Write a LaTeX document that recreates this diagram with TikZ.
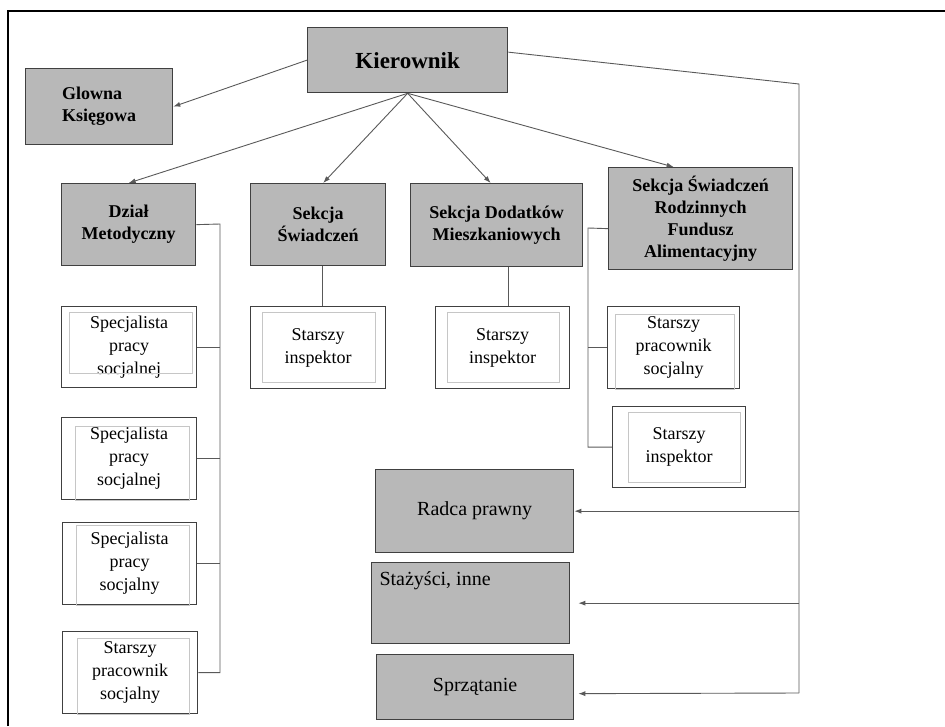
\documentclass[tikz,border=0pt]{standalone}
\usepackage{fontspec}
\setmainfont{Liberation Serif}
\usepackage{tikz}
\usetikzlibrary{arrows.meta}
\usetikzlibrary{positioning}
\definecolor{boxgray}{rgb}{0.72,0.72,0.72}

\begin{document}
\begin{tikzpicture}[
			x=1pt, y=-1pt,
			head/.style={rectangle, draw=black!75, fill=boxgray, line width=1.3pt, anchor=north west, align=center, inner sep=1pt, font=\fontsize{18}{22}\selectfont\bfseries},
			post/.style={rectangle, draw=black!75, fill=white, line width=1.3pt, anchor=north west, align=center, inner sep=1pt, font=\fontsize{18}{23}\selectfont},
			extra/.style={head, font=\fontsize{20}{24}\selectfont},
			inner/.style={draw=gray!45, line width=0.7pt},
			link/.style={draw=black!65, line width=0.9pt},
			arrow/.style={link, -{Latex[length=7pt,width=5pt]}}
		]
		\useasboundingbox (0,0) rectangle (945,726);

		% Frame (open on the right and at the bottom)
		\draw[line width=2pt] (8,726) -- (8,11) -- (945,11);

		% Top
		\node[head, minimum width=200, minimum height=65, font=\fontsize{23}{26}\selectfont\bfseries] (kier) at (307,27) {Kierownik};
		\node[head, minimum width=147, minimum height=76, align=left] (glowna) at (25,68) {Glowna\\Księgowa};

		% Departments
		\node[head, minimum width=134, minimum height=82] (dzial) at (61,183) {Dział\\Metodyczny};
		\node[head, minimum width=135, minimum height=82] (swiad) at (250,183) {Sekcja\\Świadczeń};
		\node[head, minimum width=172, minimum height=83] (dodat) at (410,183) {Sekcja Dodatków\\Mieszkaniowych};
		\node[head, minimum width=184, minimum height=102] (rodz) at (608,167) {Sekcja Świadczeń\\Rodzinnych\\Fundusz\\Alimentacyjny};

		\draw[arrow] (kier.west) -- (glowna.east);
		\draw[arrow] (kier.south) -- (dzial.north);
		\draw[arrow] (kier.south) -- ([xshift=5pt]swiad.north);
		\draw[arrow] (kier.south) -- ([xshift=-6pt]dodat.north);
		\draw[arrow] (kier.south) -- ([xshift=-27pt]rodz.north);

		% Staff
		\node[post, minimum width=135, minimum height=81] (spec1) at (61,306) {Specjalista\\pracy\\socjalnej};
		\node[post, minimum width=135, minimum height=82] (spec2) at (61,417) {Specjalista\\pracy\\socjalnej};
		\node[post, minimum width=134, minimum height=82] (spec3) at (62,522) {Specjalista\\pracy\\socjalny};
		\node[post, minimum width=135, minimum height=82] (starpr) at (62,631) {Starszy\\pracownik\\socjalny};
		\node[post, minimum width=135, minimum height=82] (insp1) at (250,306) {Starszy\\inspektor};
		\node[post, minimum width=134, minimum height=82] (insp2) at (435,306) {Starszy\\inspektor};
		\node[post, minimum width=132, minimum height=82] (rodzpr) at (607,306) {Starszy\\pracownik\\socjalny};
		\node[post, minimum width=133, minimum height=81] (rodzin) at (612,406) {Starszy\\inspektor};

		\foreach \n/\l/\t/\r/\b in {spec1/8/6/-5/-15, spec2/14/9/-8/0, spec3/14/3/-8/0, starpr/15/7/-9/0,
				insp1/12/6/-11/-7, insp2/12/6/-11/-7, rodzpr/8/8/-6/0, rodzin/16/6/-6/-6}
		\draw[inner] ([shift={(\l,\t)}]\n.north west) rectangle ([shift={(\r,\b)}]\n.south east);

		\coordinate (dbus) at (220,224);
		\draw[link] (dzial.east) -- (dbus) |- (starpr.east);
		\foreach \n in {spec1,spec2,spec3}
		\draw[link] (\n.east) -- (\n.east -| dbus);
		\draw[link] ([xshift=4pt]swiad.south) -- ([xshift=4pt]insp1.north);
		\draw[link] ([xshift=12pt]dodat.south) -- ([xshift=6pt]insp2.north);
		\coordinate (rbus) at (588,228);
		\draw[link] ([yshift=-10pt]rodz.west) -- (rbus) |- (rodzin.west);
		\draw[link] (rodzpr.west) -- (rodzpr.west -| rbus);

		% Posts reporting directly
		\node[extra, minimum width=198, minimum height=83] (radca) at (375,469) {Radca prawny};
		\node[extra, minimum width=198, minimum height=81,
			label={[anchor=north west, xshift=5pt, yshift=-6pt, font=\fontsize{20}{24}\selectfont]north west:Stażyści, inne}] (staz) at (371,562) {};
		\node[extra, minimum width=197, minimum height=65] (sprz) at (376,654) {Sprzątanie};

		\coordinate (bend) at (799,84);
		\coordinate (busend) at (799,693);
		\draw[link] ([yshift=8pt]kier.east) -- (bend) -- (busend);
		\draw[arrow] (radca.east -| bend) -- (radca.east);
		\draw[arrow] (staz.east -| bend) -- ([xshift=8pt]staz.east);
		\draw[arrow] (busend) -- ([xshift=4pt, yshift=-6.5pt]sprz.east);

	\end{tikzpicture}
\end{document}
